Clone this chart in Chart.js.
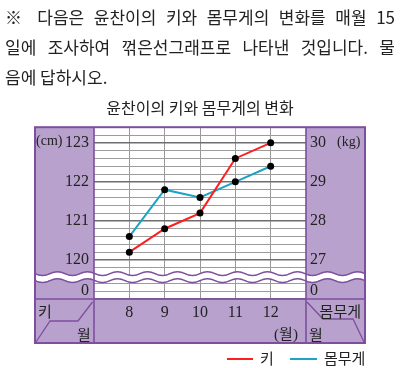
<!DOCTYPE html>
<html>
<head>
<meta charset="utf-8">
<script src="https://cdn.jsdelivr.net/npm/chart.js@4/dist/chart.umd.min.js"></script>
<style>
  html, body { margin: 0; padding: 0; background: #fff; }
  #wrap { position: relative; width: 400px; height: 368px; overflow: hidden; }
  #chart { position: absolute; left: 0; top: 0; }
  .q { position: absolute; left: 5px; width: 390px; font: 17px/30px "Noto Sans CJK KR", sans-serif; color: #222; white-space: nowrap; }
  .j { text-align: justify; text-align-last: justify; }
  .lg { position: absolute; font: 15px "Noto Sans CJK KR", sans-serif; color: #222; line-height: 20px; }
  .ln { position: absolute; height: 2px; }
</style>
</head>
<body>
<div id="wrap">
  <canvas id="chart" width="400" height="368"></canvas>
  <div class="q j" style="top:2px">※ 다음은 윤찬이의 키와 몸무게의 변화를 매월 15</div>
  <div class="q j" style="top:32px">일에 조사하여 꺾은선그래프로 나타낸 것입니다. 물</div>
  <div class="q" style="top:62px">음에 답하시오.</div>
  <div class="ln" style="left:227px; top:358px; width:26px; background:#ff1e1e"></div>
  <div class="lg" style="left:260px; top:348px">키</div>
  <div class="ln" style="left:290px; top:358px; width:27px; background:#1ba4c4"></div>
  <div class="lg" style="left:324px; top:348px">몸무게</div>
</div>
<script>
// 데이터
const months = [8, 9, 10, 11, 12];
const heights = [120.2, 120.8, 121.2, 122.6, 123.0];   // 키 (cm)
const weights = [27.6, 28.8, 28.6, 29.0, 29.4];        // 몸무게 (kg)
const seriesNames = ["키", "몸무게"];
const titleText = "윤찬이의 키와 몸무게의 변화";

const PURPLE = "#b9a1cd";
const PURPLE_DARK = "#7d4f9e";
const BREAK_CM = 119.56;   // 물결선 위치
const SERIF = "'Liberation Serif', 'DejaVu Serif', serif";
const HANGUL = "'Noto Sans CJK KR', sans-serif";

const round1 = v => Math.round(v * 10) / 10;
const isMajor = v => Math.abs(v - Math.round(v)) < 0.01;

const framePlugin = {
  id: "frame",
  beforeDraw(chart) {
    const ctx = chart.ctx;
    const a = chart.chartArea;
    const L = chart.scales.y.left, R = chart.scales.y2.right;
    const B = chart.scales.x.bottom;
    ctx.save();
    ctx.fillStyle = PURPLE;
    ctx.fillRect(L, a.top, R - L, B - a.top);
    ctx.fillStyle = "#fff";
    ctx.fillRect(a.left, a.top, a.right - a.left, a.bottom - a.top);
    ctx.restore();
  },
  afterDraw(chart) {
    const ctx = chart.ctx;
    const a = chart.chartArea;
    const L = chart.scales.y.left, R = chart.scales.y2.right;
    const XT = chart.scales.x.top, B = chart.scales.x.bottom;
    const cy = chart.scales.y.getPixelForValue(BREAK_CM);
    ctx.save();

    // 물결 (생략 표시)
    const wave = x => cy + 1.8 * Math.sin((x - L) / 30 * Math.PI * 2);
    ctx.fillStyle = "#fff";
    ctx.beginPath();
    for (let x = L; x <= R; x++) ctx.lineTo(x, wave(x) - 3);
    for (let x = R; x >= L; x--) ctx.lineTo(x, wave(x) + 3);
    ctx.closePath();
    ctx.fill();
    ctx.strokeStyle = PURPLE_DARK;
    ctx.lineWidth = 1.5;
    [-3.5, 3.5].forEach(off => {
      ctx.beginPath();
      for (let x = L; x <= R; x++) ctx.lineTo(x, wave(x) + off);
      ctx.stroke();
    });

    // 테두리
    ctx.lineWidth = 1.6;
    ctx.beginPath();
    ctx.moveTo(a.left, a.top); ctx.lineTo(a.left, B);
    ctx.moveTo(a.right, a.top); ctx.lineTo(a.right, B);
    ctx.moveTo(L, XT); ctx.lineTo(R, XT);
    ctx.stroke();
    ctx.lineWidth = 2;
    ctx.strokeRect(L, a.top, R - L, B - a.top);

    // 아래 칸 사선
    ctx.lineWidth = 1.3;
    ctx.beginPath();
    ctx.moveTo(a.left - 1.5, XT + 3);
    ctx.lineTo(a.left - 16, XT + 22);
    ctx.lineTo(L + 15, XT + 22);
    ctx.lineTo(L + 1, B - 1);
    ctx.moveTo(a.right + 1, XT + 3);
    ctx.lineTo(a.right + 17, XT + 20);
    ctx.lineTo(R - 12, XT + 20);
    ctx.lineTo(R - 1, B - 1);
    ctx.stroke();

    // 단위, 칸 이름
    ctx.fillStyle = "#222";
    ctx.textBaseline = "middle";
    ctx.font = "14px " + SERIF;
    ctx.textAlign = "left";
    ctx.fillText("(cm)", L + 1, chart.scales.y.getPixelForValue(123) - 1);
    ctx.fillText("(kg)", R - 28, chart.scales.y.getPixelForValue(123));
    ctx.font = "15px " + HANGUL;
    ctx.textAlign = "center";
    ctx.fillText("키", L + 10, XT + 12);
    ctx.fillText("월", a.left - 10, XT + 35);
    ctx.fillText("월", a.right + 10, XT + 35);
    ctx.textAlign = "right";
    ctx.fillText("몸무게", R - 4, XT + 12);
    ctx.textAlign = "center";
    ctx.font = "15px " + SERIF + ", " + HANGUL;
    ctx.fillText("(월)", a.right - 20, XT + 36);
    ctx.restore();
  }
};

new Chart(document.getElementById("chart"), {
  type: "line",
  data: {
    datasets: [
      {
        label: seriesNames[0],
        data: months.map((m, i) => ({ x: m, y: heights[i] })),
        yAxisID: "y",
        borderColor: "#ff1e1e",
        borderWidth: 2,
        pointRadius: 3.5,
        pointBackgroundColor: "#000",
        pointBorderWidth: 0
      },
      {
        label: seriesNames[1],
        data: months.map((m, i) => ({ x: m, y: weights[i] })),
        yAxisID: "y2",
        borderColor: "#1ba4c4",
        borderWidth: 2,
        pointRadius: 3.5,
        pointBackgroundColor: "#000",
        pointBorderWidth: 0
      }
    ]
  },
  options: {
    responsive: false,
    animation: false,
    devicePixelRatio: 1,
    layout: { padding: { top: 90, left: 35, right: 35, bottom: 25 } },
    plugins: {
      legend: { display: false },
      tooltip: { enabled: false },
      title: {
        display: true,
        text: titleText,
        color: "#222",
        font: { family: HANGUL, size: 16, weight: "normal" },
        padding: { top: 8, bottom: 10 }
      }
    },
    scales: {
      x: {
        type: "linear",
        min: 7, max: 13,
        border: { display: false },
        grid: {
          drawTicks: false,
          color: c => (c.tick.value >= 8 && c.tick.value <= 12) ? "#999999" : "rgba(0,0,0,0)"
        },
        ticks: {
          stepSize: 1,
          padding: 4,
          color: "#222",
          font: { family: SERIF, size: 16 },
          callback: v => (v >= 8 && v <= 12) ? String(v) : ""
        },
        afterFit: s => { s.height = 44; }
      },
      y: {
        position: "left",
        min: 119, max: 123.4,
        border: { display: false },
        grid: {
          drawTicks: false,
          color: c => isMajor(c.tick.value) ? "#6e6e6e" : "#9c9c9c",
          lineWidth: c => isMajor(c.tick.value) ? 1.4 : 1
        },
        ticks: {
          stepSize: 0.2,
          autoSkip: false,
          padding: 5,
          color: "#222",
          font: { family: SERIF, size: 16 },
          callback: v => {
            const r = round1(v);
            if (r === 119.2) return "0";
            return (Number.isInteger(r) && r >= 120) ? String(r) : "";
          }
        },
        afterFit: s => { s.width = 59; }
      },
      y2: {
        position: "right",
        min: 26, max: 30.4,
        border: { display: false },
        grid: { display: false, drawTicks: false },
        ticks: {
          stepSize: 0.2,
          autoSkip: false,
          padding: 4,
          color: "#222",
          font: { family: SERIF, size: 16 },
          callback: v => {
            const r = round1(v);
            if (r === 26.2) return "0";
            return (Number.isInteger(r) && r >= 27) ? String(r) : "";
          }
        },
        afterFit: s => { s.width = 59; }
      }
    }
  },
  plugins: [framePlugin]
});
</script>
</body>
</html>
